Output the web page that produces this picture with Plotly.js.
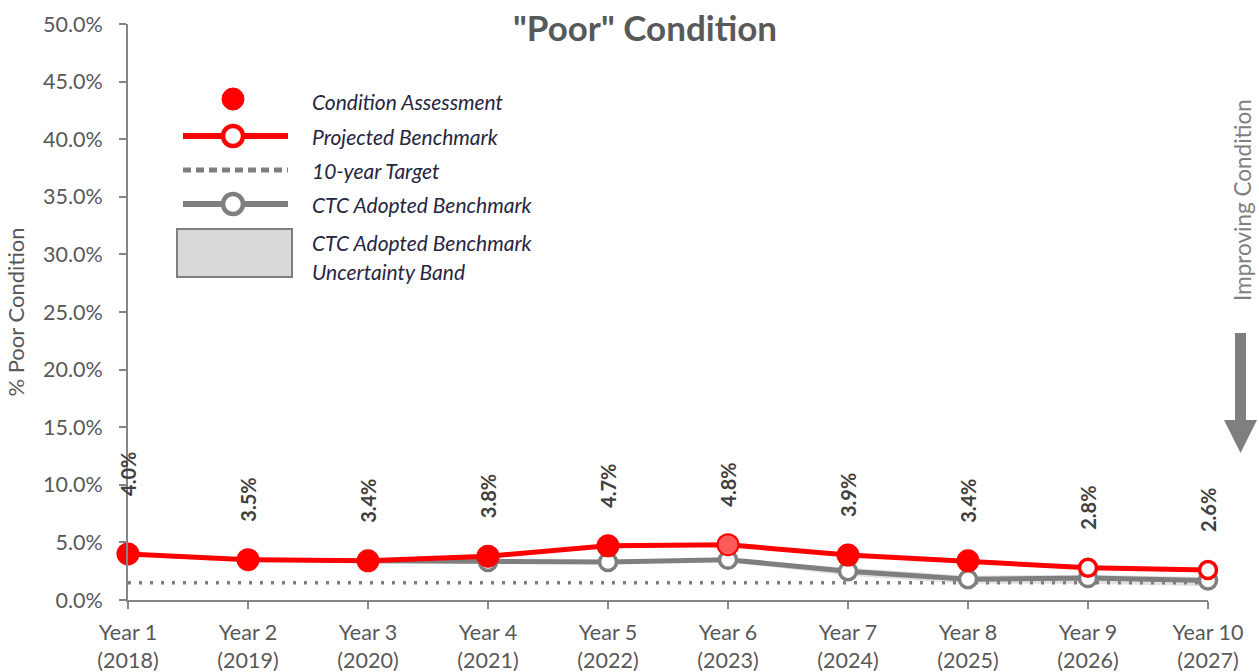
<!DOCTYPE html>
<html>
<head>
<meta charset="utf-8">
<script src="https://cdn.plot.ly/plotly-3.0.1.min.js"></script>
<style>html,body{margin:0;padding:0;background:#fff;}#chart{width:1259px;height:672px;}</style>
</head>
<body>
<div id="chart"></div>
<script>
// ---- data ----
const categories = ["Year 1<br>(2018)","Year 2<br>(2019)","Year 3<br>(2020)","Year 4<br>(2021)","Year 5<br>(2022)","Year 6<br>(2023)","Year 7<br>(2024)","Year 8<br>(2025)","Year 9<br>(2026)","Year 10<br>(2027)"];
const projected = [0.040,0.035,0.034,0.038,0.047,0.048,0.039,0.034,0.028,0.026];
const assessment = [0.040,0.035,0.034,0.038,0.047,0.048,0.039,0.034,null,null];
const ctcAdopted = [null,null,0.034,0.033,0.033,0.035,0.025,0.018,0.019,0.017];
const bandUpper = [null,null,0.034,0.033,0.033,0.036,0.028,0.021,0.022,0.020];
const bandLower = [null,null,0.034,0.033,0.033,0.033,0.021,0.014,0.014,0.012];
const target = [0.015,0.015,0.015,0.015,0.015,0.015,0.015,0.015,0.015,0.015];
const labels = ["4.0%","3.5%","3.4%","3.8%","4.7%","4.8%","3.9%","3.4%","2.8%","2.6%"];

// ---- style ----
const RED = "#ff0000", GRAY = "#7f7f7f", FONT = "Lato, 'Open Sans', sans-serif";
const L = 128, T = 24, W = 1080, H = 576;
const px = x => (x - L) / W;
const py = y => (T + H - y) / H;

const traces = [
  {x: categories, y: bandLower, mode: "lines", line: {width: 0}, hoverinfo: "skip", showlegend: false, cliponaxis: false},
  {x: categories, y: bandUpper, mode: "lines", line: {width: 0}, fill: "tonexty", fillcolor: "rgba(200,200,200,0.55)", hoverinfo: "skip", showlegend: false},
  {x: categories, y: target, mode: "lines", line: {color: GRAY, width: 3.5, dash: "3px,8px"}, showlegend: false},
  {x: categories, y: ctcAdopted, mode: "lines+markers", line: {color: GRAY, width: 5},
   marker: {size: 17, color: "#ffffff", line: {color: GRAY, width: 3.5}}, showlegend: false, cliponaxis: false},
  {x: categories, y: projected, mode: "lines+markers", line: {color: RED, width: 5},
   marker: {size: 17, color: "#ffffff", line: {color: RED, width: 3.5}}, showlegend: false, cliponaxis: false},
  {x: categories, y: assessment, mode: "markers",
   marker: {size: 21, color: assessment.map((v,i) => i === 5 ? "#ff5a5a" : RED), line: {color: RED, width: 2}}, showlegend: false, cliponaxis: false}
];

const annotations = labels.map((t, i) => ({
  x: categories[i], y: projected[i], xref: "x", yref: "y", text: t, showarrow: false,
  textangle: -90, xanchor: "center", yanchor: "middle", yshift: i === 0 ? 80 : 60,
  font: {family: FONT, size: 20, color: "#404040", weight: "bold"}
}));

// legend texts
const legTxt = [
  ["Condition Assessment", 101], ["Projected Benchmark", 136], ["10-year Target", 170],
  ["CTC Adopted Benchmark", 204], ["CTC Adopted Benchmark", 242], ["Uncertainty Band", 271]
];
legTxt.forEach(([t, y]) => annotations.push({
  xref: "paper", yref: "paper", x: px(310), y: py(y), xanchor: "left", yanchor: "middle",
  text: "<i>" + t + "</i>", showarrow: false, font: {family: FONT, size: 21, color: "#262640"}
}));
annotations.push({
  xref: "paper", yref: "paper", x: px(1242), y: py(200), xanchor: "center", yanchor: "middle",
  text: "Improving Condition", textangle: -90, showarrow: false, font: {family: FONT, size: 22.5, color: GRAY}
});

const circ = (cx, cy, r, fill, stroke, w) => ({
  type: "circle", xref: "paper", yref: "paper",
  x0: px(cx - r), x1: px(cx + r), y0: py(cy + r), y1: py(cy - r),
  fillcolor: fill, line: {color: stroke, width: w}
});
const hline = (y, color, w, dash) => ({
  type: "line", xref: "paper", yref: "paper", x0: px(183), x1: px(288), y0: py(y), y1: py(y),
  line: {color: color, width: w, dash: dash}
});

const shapes = [
  circ(233, 99, 11, RED, RED, 1),
  hline(136, RED, 6, "solid"),
  circ(233, 136, 10, "#ffffff", RED, 4.5),
  hline(170, GRAY, 5, "8px,5px"),
  hline(204, GRAY, 6, "solid"),
  circ(233, 204, 10, "#ffffff", GRAY, 4.5),
  {type: "rect", xref: "paper", yref: "paper", x0: px(177), x1: px(292), y0: py(277), y1: py(229),
   fillcolor: "#d9d9d9", line: {color: GRAY, width: 2}},
  // improving arrow
  {type: "rect", xref: "paper", yref: "paper", x0: px(1235), x1: px(1246), y0: py(421), y1: py(333),
   fillcolor: GRAY, line: {width: 0}},
  {type: "path", xref: "paper", yref: "paper",
   path: `M ${px(1224)} ${py(420)} L ${px(1257)} ${py(420)} L ${px(1240.5)} ${py(453)} Z`,
   fillcolor: GRAY, line: {width: 0}}
];

const layout = {
  width: 1259, height: 672,
  margin: {l: L, r: 1259 - L - W, t: T, b: 672 - T - H, pad: 0},
  paper_bgcolor: "#ffffff", plot_bgcolor: "#ffffff",
  font: {family: FONT, color: "#595959"},
  title: {text: "<b>\"Poor\" Condition</b>", x: 645 / 1259, xanchor: "center", y: 1 - 29 / 672, yanchor: "middle",
          font: {family: FONT, size: 35, color: "#595959"}},
  xaxis: {type: "category", range: [0, 9], showgrid: false, zeroline: false,
          showline: true, linecolor: "#868686", linewidth: 2,
          ticks: "outside", ticklen: 7, tickwidth: 2, tickcolor: "#868686",
          tickfont: {family: FONT, size: 21.5, color: "#595959"}, ticklabelstandoff: 5},
  yaxis: {range: [0, 0.5], dtick: 0.05, tickformat: ".1%", showgrid: false, zeroline: false,
          showline: true, linecolor: "#868686", linewidth: 2,
          ticks: "outside", ticklen: 7, tickwidth: 2, tickcolor: "#868686",
          tickfont: {family: FONT, size: 21.5, color: "#595959"}, ticklabelstandoff: 12,
          title: {text: "% Poor Condition", font: {family: FONT, size: 22, color: "#595959"}, standoff: 12}},
  showlegend: false,
  annotations: annotations,
  shapes: shapes
};

Plotly.newPlot("chart", traces, layout, {displayModeBar: false, staticPlot: true});
</script>
</body>
</html>
